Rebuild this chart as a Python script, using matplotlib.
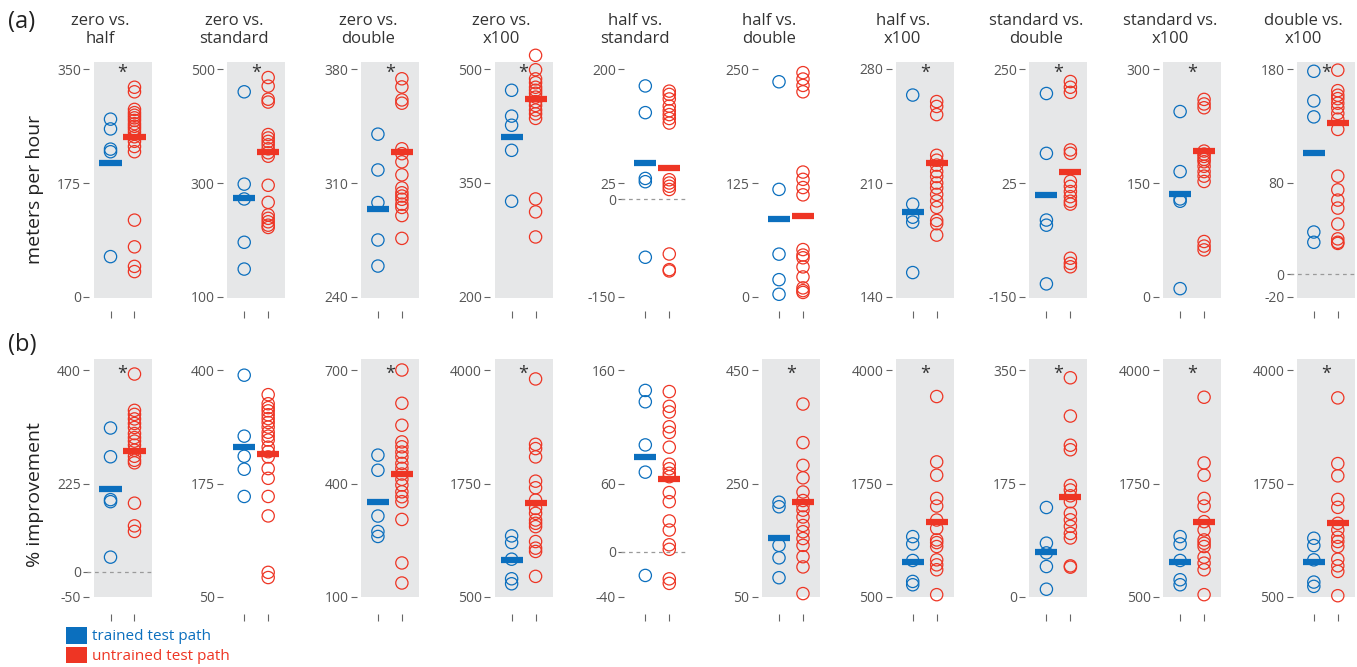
import matplotlib.pyplot as plt
from matplotlib.patches import Patch
import numpy as np

plt.rcParams['font.family'] = ['Open Sans', 'DejaVu Sans']

BLUE = '#0b6fbe'
RED = '#ee3524'
GRAY_BG = '#e6e7e8'
TICK_TXT = '#555555'

titles = ['zero vs.\nhalf', 'zero vs.\nstandard', 'zero vs.\ndouble', 'zero vs.\nx100',
          'half vs.\nstandard', 'half vs.\ndouble', 'half vs.\nx100',
          'standard vs.\ndouble', 'standard vs.\nx100', 'double vs.\nx100']

# (a) walking speed, meters per hour
speed_tick_labels = [['0', '175', '350'], ['100', '300', '500'], ['240', '310', '380'],
                     ['200', '350', '500'], ['-150', '25', '200'], ['0', '125', '250'],
                     ['140', '210', '280'], ['-150', '25', '250'], ['0', '150', '300'],
                     ['-20', '80', '180']]
speed_sig = [1, 1, 1, 1, 0, 0, 1, 1, 1, 1]
speed_zero = [0, 0, 0, 0, 1, 0, 0, 0, 0, 1]
speed_trained = [
    [273, 258, 227, 223, 62],
    [460, 298, 272, 196, 149],
    [340, 318, 298, 275, 259],
    [472, 438, 426, 393, 326],
    [174, 133, 32, 27, -89],
    [236, 118, 47, 19, 3],
    [264, 197, 189, 186, 155],
    [207, 102, -15, -24, -127],
    [244, 165, 129, 126, 11],
    [178, 152, 138, 37, 28],
]
speed_untrained = [
    [322, 315, 288, 283, 279, 275, 271, 266, 262, 258, 253, 246, 239, 231, 223, 118, 77, 47, 39],
    [485, 470, 447, 442, 385, 379, 373, 367, 360, 353, 347, 296, 266, 244, 238, 232, 226, 222],
    [374, 369, 361, 359, 331, 328, 323, 315, 307, 304, 302, 300, 297, 295, 290, 276],
    [518, 499, 487, 482, 476, 472, 468, 463, 457, 452, 446, 441, 435, 329, 312, 279],
    [166, 161, 154, 143, 136, 130, 124, 117, 30, 25, 20, 15, -84, -108, -110],
    [246, 239, 232, 225, 137, 129, 120, 112, 52, 46, 43, 33, 22, 10, 7, 5],
    [260, 257, 252, 227, 224, 221, 217, 214, 210, 207, 203, 199, 195, 187, 185, 178],
    [228, 218, 209, 108, 102, 53, 44, 35, 26, 18, 13, -82, -91, -97],
    [260, 254, 249, 192, 188, 185, 181, 178, 172, 165, 159, 152, 73, 67, 62],
    [179, 161, 157, 154, 150, 146, 141, 136, 127, 86, 74, 65, 58, 44, 31, 28, 27],
]
speed_trained_mean = [206, 274, 294, 411, 56, 85, 192, 29, 136, 106]
speed_untrained_mean = [246, 354, 329, 460, 48, 89, 222, 70, 192, 133]

# (b) percent improvement
impr_tick_labels = [['-50', '225', '400'], ['50', '175', '400'], ['100', '400', '700'],
                    ['500', '1750', '4000'], ['-40', '60', '160'], ['50', '250', '450'],
                    ['500', '1750', '4000'], ['0', '175', '350'], ['500', '1750', '4000'],
                    ['500', '1750', '4000']]
impr_sig = [1, 0, 1, 1, 0, 1, 1, 1, 1, 1]
impr_zero = [1, 0, 0, 0, 1, 0, 0, 0, 0, 0]
impr_trained = [
    [285, 228, 143, 139, 29],
    [392, 298, 267, 247, 205],
    [475, 435, 314, 273, 260],
    [1442, 1340, 1083, 781, 704],
    [142, 132, 94, 70, -21],
    [217, 209, 141, 119, 84],
    [1431, 1319, 1063, 740, 689],
    [138, 83, 68, 47, 12],
    [1431, 1319, 1063, 766, 689],
    [1406, 1293, 1073, 730, 664],
]
impr_untrained = [
    [392, 320, 312, 303, 294, 286, 274, 266, 259, 251, 241, 229, 221, 216, 136, 91, 80],
    [362, 348, 342, 337, 331, 325, 319, 312, 304, 298, 292, 281, 274, 266, 248, 233, 205, 175, 88, 80],
    [700, 612, 554, 510, 497, 483, 470, 453, 440, 425, 411, 396, 378, 365, 352, 305, 190, 137],
    [3862, 2854, 2788, 2660, 2286, 2184, 1994, 1866, 1790, 1687, 1636, 1585, 1355, 1253, 1202, 818],
    [141, 128, 123, 110, 105, 92, 77, 73, 69, 66, 52, 44, 27, 19, 6, 2, -24, -28],
    [390, 322, 282, 260, 235, 220, 211, 203, 191, 176, 165, 153, 141, 121, 103, 56],
    [3591, 2583, 2378, 2020, 1902, 1687, 1559, 1380, 1339, 1278, 1073, 996, 920, 536],
    [338, 279, 234, 227, 172, 165, 156, 147, 129, 119, 109, 98, 91, 48, 46],
    [3580, 2567, 2378, 2020, 1902, 1662, 1534, 1380, 1329, 1278, 1114, 1022, 920, 536],
    [3570, 2557, 2368, 2004, 1882, 1636, 1534, 1421, 1355, 1278, 1083, 981, 894, 520],
]
impr_trained_mean = [164, 281, 351, 1073, 83, 154, 1047, 69, 1037, 1032]
impr_untrained_mean = [240, 270, 424, 1943, 64, 217, 1662, 154, 1662, 1646]

W, H = 1357, 667
fig = plt.figure(figsize=(W / 100, H / 100), dpi=100)


def draw_panel(ax, trained, untrained, m_tr, m_un, labels, sig, zero, pad_lo, pad_hi, x_out):
    lo, hi = float(labels[0]), float(labels[-1])
    span = hi - lo
    ax.set_xlim(-0.71, 1.71)
    ax.set_ylim(lo - pad_lo * span, hi + pad_hi * span)
    ax.set_facecolor(GRAY_BG if sig else 'none')
    for s in ax.spines.values():
        s.set_visible(False)
    ax.spines['left'].set_position(('outward', 3))
    ax.spines['bottom'].set_position(('outward', x_out))

    ticks = [lo, (lo + hi) / 2, hi]
    tlabels = list(labels)
    if zero:
        ticks.append(0)
        tlabels.append('0')
        ax.plot([-0.12, 1.0], [0, 0], transform=ax.get_yaxis_transform(),
                color='#9a9a9a', lw=0.9, ls=(0, (3, 3)), clip_on=False)
    ax.set_yticks(ticks, labels=tlabels)
    ax.tick_params(axis='y', length=4, width=0.8, color='#666666', pad=2,
                   labelsize=10, labelcolor=TICK_TXT)
    ax.set_xticks([0, 1], labels=['', ''])
    ax.tick_params(axis='x', length=5, width=0.8, color='#666666')

    ax.scatter(np.zeros(len(trained)), trained, s=78, facecolors='none',
               edgecolors=BLUE, linewidths=0.9, clip_on=False, zorder=3)
    ax.scatter(np.ones(len(untrained)), untrained, s=78, facecolors='none',
               edgecolors=RED, linewidths=0.9, clip_on=False, zorder=3)
    ax.plot([-0.46, 0.46], [m_tr, m_tr], color=BLUE, lw=4.5,
            solid_capstyle='butt', zorder=4)
    ax.plot([0.54, 1.46], [m_un, m_un], color=RED, lw=4.5,
            solid_capstyle='butt', zorder=4)
    if sig:
        ax.annotate('*', (0.5, hi), xytext=(0, -3), textcoords='offset points',
                    ha='center', va='center', fontsize=13, color='#333333', zorder=5)


for i in range(10):
    left = 93.5 + 133.7 * i
    # top row: meters per hour
    ax = fig.add_axes([left / W, 1 - 298 / H, 58 / W, 236 / H])
    draw_panel(ax, speed_trained[i], speed_untrained[i], speed_trained_mean[i],
               speed_untrained_mean[i], speed_tick_labels[i], speed_sig[i],
               speed_zero[i], 1 / 228, 7 / 228, 9)
    # bottom row: % improvement
    ax = fig.add_axes([left / W, 1 - 597 / H, 58 / W, 238 / H])
    draw_panel(ax, impr_trained[i], impr_untrained[i], impr_trained_mean[i],
               impr_untrained_mean[i], impr_tick_labels[i], impr_sig[i],
               impr_zero[i], 0.0, 11 / 227, 12)
    fig.text((left + 7) / W, 1 - 30 / H, titles[i], ha='center', va='center',
             fontsize=12, linespacing=1.15, color='#333333')

fig.text(8 / W, 1 - 22 / H, '(a)', ha='left', va='center', fontsize=17, color='#222222')
fig.text(8 / W, 1 - 345 / H, '(b)', ha='left', va='center', fontsize=17, color='#222222')
fig.text(35 / W, 1 - 189 / H, 'meters per hour', rotation=90, ha='center',
         va='center', fontsize=14, color='#222222')
fig.text(35 / W, 1 - 495 / H, '% improvement', rotation=90, ha='center',
         va='center', fontsize=14, color='#222222')

handles = [Patch(facecolor=BLUE, label='trained test path'),
           Patch(facecolor=RED, label='untrained test path')]
fig.legend(handles=handles, loc='upper left', bbox_to_anchor=(66 / W, 1 - 627 / H),
           frameon=False, fontsize=11, handlelength=1.4, handleheight=1.3,
           handletextpad=0.3, labelspacing=0.15, borderpad=0, borderaxespad=0,
           labelcolor=[BLUE, RED])

fig.savefig('out.png', dpi=100)
